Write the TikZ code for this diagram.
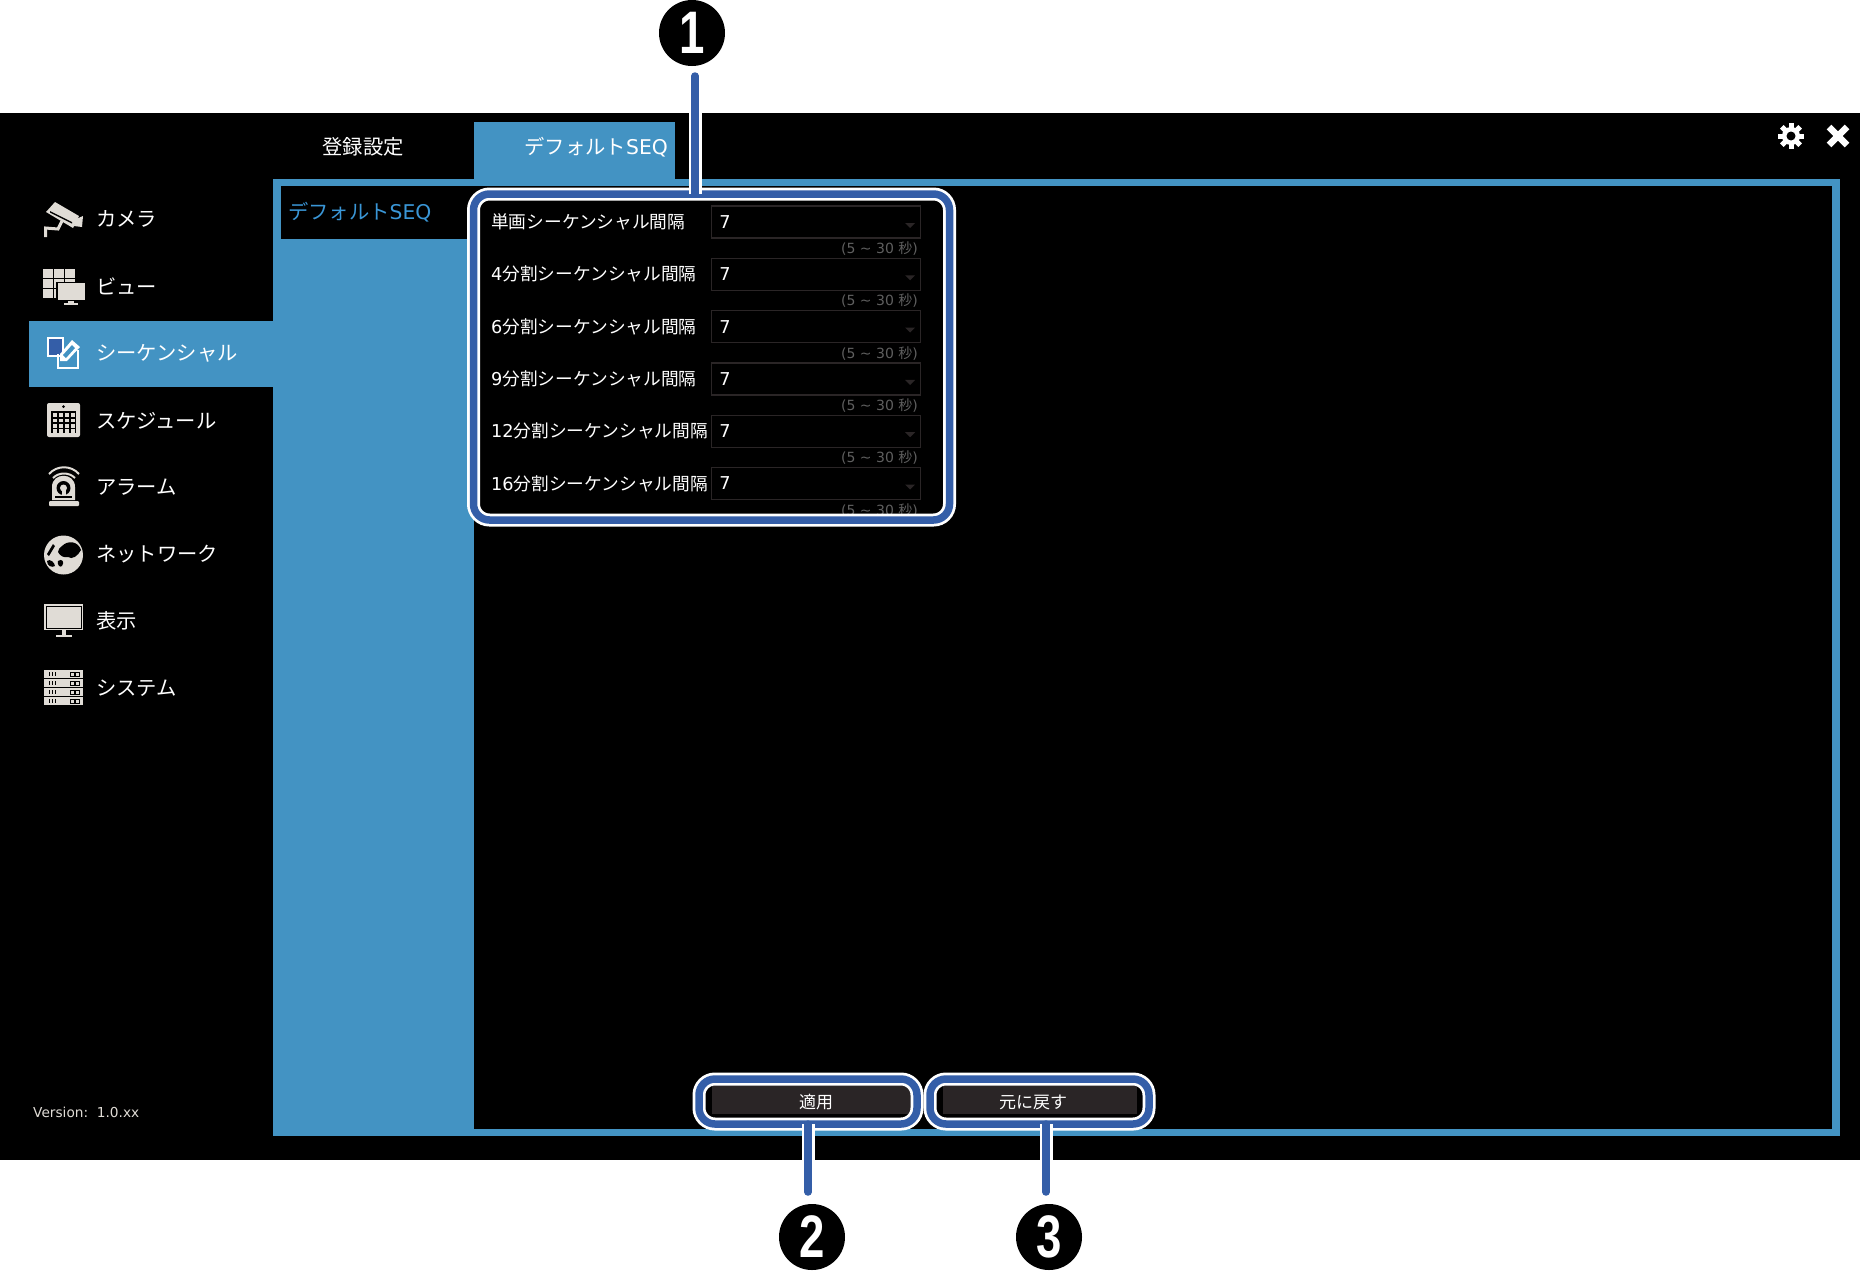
\documentclass[tikz,border=0pt]{standalone}
\usepackage{fontspec}
\setmainfont{DejaVu Sans}
\newfontfamily\jafont{Noto Sans CJK JP}
\newfontfamily\digitfont{Liberation Sans}
\newcommand{\ja}[1]{{\jafont #1}}
\newcommand{\dotdigit}[1]{\scalebox{.76}[1]{\bfseries #1}}
\definecolor{panelblue}{HTML}{4393C3}
\definecolor{listblue}{HTML}{3A96D6}
\definecolor{calloutblue}{HTML}{345EA8}
\definecolor{iconlight}{HTML}{E0DCD6}
\definecolor{widgetline}{HTML}{2A2526}
\definecolor{hintgray}{HTML}{5F5F5F}
\begin{document}
\begin{tikzpicture}
        [
            x = 1pt,
            y = -1pt,
            menulabel/.style={anchor=west, inner sep=0pt, text=white, font=\fontsize{20.3}{24}\selectfont\jafont},
            tablabel/.style={inner sep=0pt, text=white, font=\fontsize{20.3}{24}\selectfont},
            rowlabel/.style={anchor=west, inner sep=0pt, text=white, font=\fontsize{17.7}{20}\selectfont},
            dropbox/.style={draw=widgetline, line width=1.2pt, minimum width=209pt, minimum height=32pt, inner sep=0pt},
            droptip/.style={fill=widgetline},
            hintlabel/.style={anchor=east, inner sep=0pt, text=hintgray, font=\fontsize{14}{16}\selectfont},
            buttonbox/.style={fill=widgetline, inner sep=0pt, minimum height=31pt},
            buttonlabel/.style={inner sep=0pt, text=white, font=\fontsize{17}{20}\selectfont\jafont},
            callout/.style={rectangle, rounded corners=16pt, outer sep=0pt, inner sep=0pt, draw=calloutblue, line width=7.5pt, preaction={draw=white, line width=13pt}},
            calllead/.style={draw=calloutblue, line width=7.5pt, line cap=round, preaction={draw=white, line width=13pt, line cap=butt}},
            numdot/.style={circle, fill=black, inner sep=0pt, minimum size=66pt, text=white, font=\fontsize{60}{60}\selectfont\digitfont},
            icon/.style={fill=iconlight},
            iconcut/.style={fill=black},
        ]
        \useasboundingbox (0,0) rectangle (1860,1270);
        \fill[black] (0,113) rectangle (1860,1160);
        \fill[panelblue] (273,179) rectangle (1840,1136);
        \fill[black] (474,186) rectangle (1832,1129);
        \fill[black] (281,186) rectangle (474,239);
        \fill[panelblue] (474,122) rectangle (675,179);
        \fill[panelblue] (29,321) rectangle (273,387);

        \node[tablabel] (tabrec) at (363,147) {\ja{登録設定}};
        \node[tablabel, anchor=east] (tabseq) at (668,147) {\ja{デフォルト}SEQ};
        \node[tablabel, anchor=west, text=listblue] (listseq) at (288,212) {\ja{デフォルト}SEQ};

        \node[menulabel] (menucam) at (96,219) {カメラ};
        \node[menulabel] (menuview) at (96,286) {ビュー};
        \node[menulabel] (menuseq) at (96,353.5) {シーケンシャル};
        \node[menulabel] (menusched) at (96,420.5) {スケジュール};
        \node[menulabel] (menualarm) at (96,487) {アラーム};
        \node[menulabel] (menunet) at (96,554) {ネットワーク};
        \node[menulabel] (menudisp) at (96,621) {表示};
        \node[menulabel] (menusys) at (96,688) {システム};
        \node[anchor=west, inner sep=0pt, text=iconlight, font=\fontsize{13.7}{16}\selectfont] (version) at (33,1112.5) {Version:\ \ 1.0.xx};

        \fill[icon] (46,212) -- (55,202) -- (79,216) -- (73,228) -- cycle;
        \fill[black] (50,211) -- (72,222) -- (72,223.5) -- (50,212.5) -- cycle;
        \fill[icon] (76,219) -- (83,216) -- (82,227) -- (74,226) -- cycle;
        \draw[iconlight, line width=3pt] (45.5,237) -- (45.5,228) -- (58,229) -- (62,221);

        \foreach \cellx in {43,54,65} {
            \foreach \celly in {269,279,289} {
                \fill[icon] (\cellx,\celly) rectangle +(9.5,8.5);
            }
        }
        \fill[black] (56,282) rectangle (86,302);
        \fill[icon] (58,283) rectangle (85,300);
        \fill[icon] (68,301) rectangle (74,303);
        \fill[icon] (64,303) rectangle (78,305);

        \draw[white, fill=calloutblue, line width=1.5pt] (48,338) rectangle (63,356);
        \draw[white, line width=1.5pt] (58,354) -- (58,368) -- (78,368) -- (78,350);
        \fill[white] (60,354) -- (72,340) -- (80,347) -- (67,361) -- (60,361) -- cycle;
        \fill[panelblue] (63,355) -- (72,345) -- (75,348) -- (66,358) -- cycle;

        \fill[icon, rounded corners=2pt] (47,403) rectangle (80,437);
        \fill[black] (51,411) rectangle (76,433);
        \fill[black] (63.5,406.5) circle (1.5);
        \foreach \cellx in {53,59,65,71} {
            \foreach \celly in {413,418.5,424,429} {
                \fill[icon] (\cellx,\celly) rectangle +(3.8,3.5);
            }
        }

        \draw[iconlight, line width=2pt] (49,474) .. controls (57,465) and (71,465) .. (79,474);
        \draw[iconlight, line width=2pt] (53,478) .. controls (59,472) and (69,472) .. (75,478);
        \fill[icon] (52,500) -- (52,487) .. controls (52,472) and (75,472) .. (75,487) -- (75,500) -- cycle;
        \fill[black] (63.5,488) circle (7);
        \fill[black] (55,496) rectangle (72,498);
        \fill[icon] (63.5,488) circle (3.5);
        \fill[icon] (61.5,488) rectangle (65.5,496);
        \fill[icon, rounded corners=1pt] (49,501) rectangle (79,506);

        \fill[icon] (63.5,555) circle (19.5);
        \fill[black] (62,546) .. controls (68,540) and (78,541) .. (81,550) .. controls (78,556) and (72,560) .. (68,557) .. controls (64,558) and (60,556) .. (58,552) .. controls (58,549) and (60,548) .. (62,546) -- cycle;
        \fill[black] (58,561) .. controls (62,558) and (65,562) .. (62,566) .. controls (60,568) and (57,565) .. (58,561) -- cycle;
        \fill[black] (47,561) .. controls (50,558) and (55,563) .. (55,566) .. controls (52,568) and (47,566) .. (47,561) -- cycle;
        \fill[black] (47,554) -- (53,544) -- (55,546) -- (49,556) -- cycle;

        \fill[icon] (44,604) rectangle (83,630);
        \draw[black, line width=.8pt] (46,606) rectangle (81,628);
        \fill[icon] (61.5,630) rectangle (65.5,635);
        \fill[icon] (56,635) rectangle (72,637);

        \foreach \cardy in {670,679,688,697} {
            \fill[icon] (44,\cardy) rectangle +(39,8);
            \foreach \tickx in {49,52,55} {
                \fill[black] (\tickx,\cardy+2) rectangle +(1,4);
            }
            \draw[black, line width=.8pt] (70.5,\cardy+2) rectangle +(3.5,4);
            \draw[black, line width=.8pt] (75.5,\cardy+2) rectangle +(3.5,4);
        }

        \fill[white] (1791,136) circle (9);
        \foreach \toothangle in {0,45,...,315} {
            \fill[white, rotate around={\toothangle:(1791,136)}] (1788.5,123) rectangle (1793.5,130);
        }
        \fill[black] (1791,136) circle (4.5);
        \draw[white, line width=6.5pt] (1829,127) -- (1847,145);
        \draw[white, line width=6.5pt] (1847,127) -- (1829,145);

        \foreach \n/\rowhead in {0/\ja{単画},1/4\ja{分割},2/6\ja{分割},3/9\ja{分割},4/12\ja{分割},5/16\ja{分割}} {
            \pgfmathsetmacro{\rowy}{222+52.3*\n}
            \node[dropbox] (drop\n) at (816,\rowy) {};
            \node[rowlabel] (row\n) at (491,\rowy) {\rowhead\ja{シーケンシャル間隔}};
            \node[rowlabel, anchor=center] (value\n) at (725,\rowy) {7};
            \fill[droptip] (drop\n.east) ++(-16,1) -- ++(10,0) -- ++(-5,5) -- cycle;
            \node[hintlabel] (hint\n) at ([xshift=-3pt,yshift=-10pt]drop\n.south east) {(5 \textasciitilde{} 30 \ja{秒})};
        }

        \node[buttonbox, minimum width=200pt] (applybtn) at (812,1098.5) {};
        \node[buttonbox, minimum width=194pt] (revertbtn) at (1040,1098.5) {};
        \node[buttonlabel] (applytext) at (816,1102) {適用};
        \node[buttonlabel] (reverttext) at (1033,1102) {元に戻す};

        \node[callout, minimum width=476pt, minimum height=326pt] (seqbox) at (711.5,357) {};
        \node[callout, minimum width=218pt, minimum height=45pt] (applybox) at (808,1101.5) {};
        \node[callout, minimum width=219pt, minimum height=45pt] (revertbox) at (1039.5,1101.5) {};

        \node[numdot] (num1) at (692,33) {\dotdigit{1}};
        \node[numdot] (num2) at (812,1237) {\dotdigit{2}};
        \node[numdot] (num3) at (1049,1237) {\dotdigit{3}};

        \coordinate (lead1) at (695,76);
        \coordinate (lead2) at (808,1192);
        \coordinate (lead3) at (1046,1192);
        \draw[calllead] (lead1) -- (lead1 |- seqbox.north);
        \draw[calllead] (lead2) -- (lead2 |- applybox.south);
        \draw[calllead] (lead3) -- (lead3 |- revertbox.south);
    \end{tikzpicture}
\end{document}
